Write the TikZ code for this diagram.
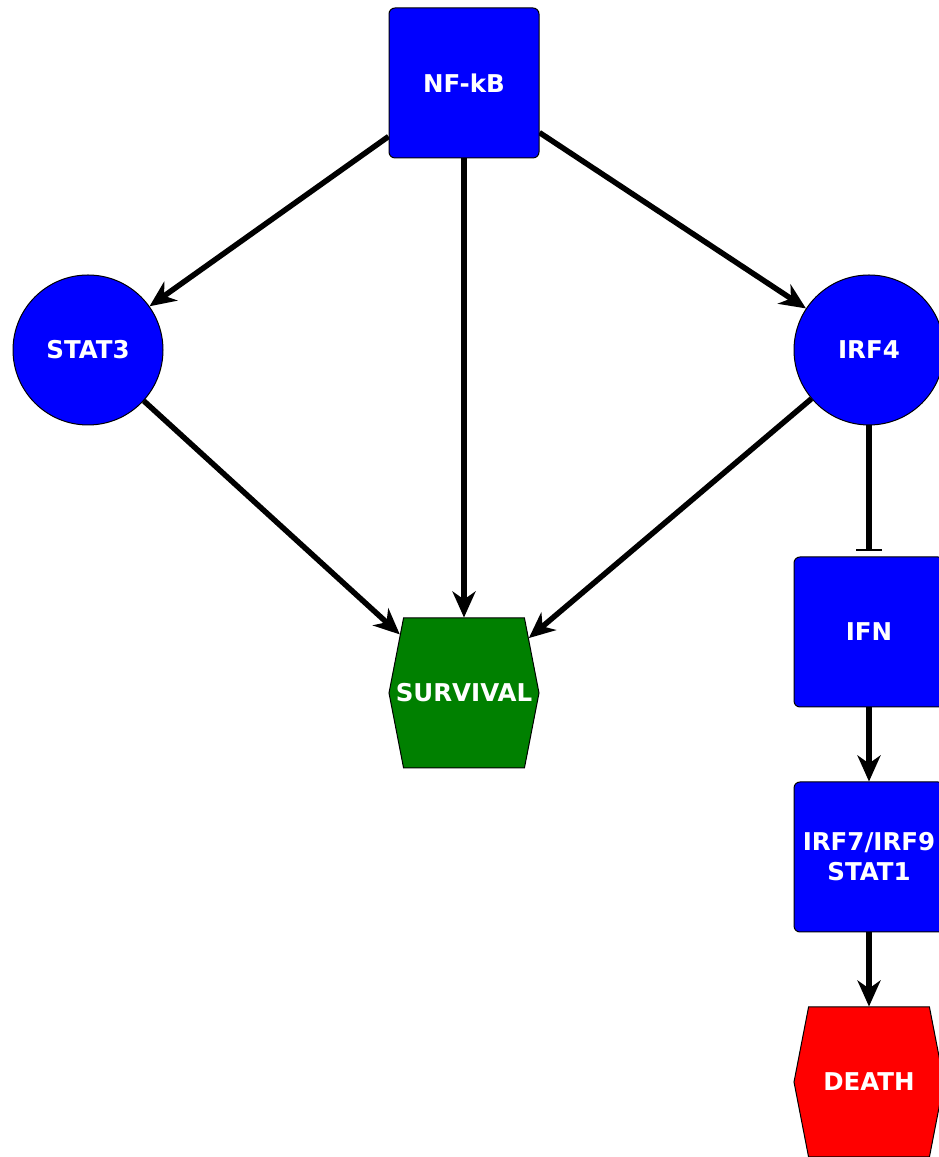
\documentclass[tikz,border=0pt]{standalone}
\usepackage{fontspec}
\setmainfont{DejaVu Sans}
\usetikzlibrary{arrows.meta}
\usetikzlibrary{shapes.symbols}
\pgfdeclarelayer{nodelayer}
\pgfdeclarelayer{edgelayer}
\pgfsetlayers{edgelayer,nodelayer,main}
\tikzset{genetext/.style={text=white, align=center, font=\fontsize{24.5}{30}\selectfont\bfseries}}
\tikzset{gene/.style={shape=rectangle, draw=black, line width=1pt, fill=blue, rounded corners=6pt,
minimum width=150pt, minimum height=150pt, inner sep=0pt, genetext}}
\tikzset{tf/.style={gene, shape=circle, minimum size=150pt}}
\tikzset{fate/.style={gene, shape=signal, signal to=west and east, signal pointer angle=158,
rounded corners=0pt, label={[genetext]center:#1}}}
\tikzset{act/.style={line width=5.5pt, -{Stealth[length=26pt, width=23pt, inset=8pt]}}}
\tikzset{inh/.style={line width=5.5pt, -{Bar[width=26pt, line width=2pt]}, shorten >=5pt}}
\begin{document}
\begin{tikzpicture}[x=100pt, y=100pt]
        \useasboundingbox (0, 0) rectangle (9.39, 11.57);
        \begin{pgfonlayer}{nodelayer}
            \node [style=gene] (nfkb) at (4.64, 10.74) {NF-kB};
            \node [style=tf] (stat3) at (0.88, 8.07) {STAT3};
            \node [style=tf] (irf4) at (8.69, 8.07) {IRF4};
            \node [fate=SURVIVAL, fill={rgb,255:red,0;green,128;blue,0}] (survival) at (4.64, 4.64) {};
            \node [style=gene] (ifn) at (8.69, 5.25) {IFN};
            \node [style=gene] (irf7) at (8.69, 3.00) {IRF7/IRF9\\STAT1};
            \node [fate=DEATH, fill=red] (death) at (8.69, 0.75) {};
        \end{pgfonlayer}
        \begin{pgfonlayer}{edgelayer}
            \draw [style=act] (nfkb) to (stat3);
            \draw [style=act] (nfkb) to (survival);
            \draw [style=act] (nfkb) to (irf4);
            \draw [style=act] (stat3) to (survival);
            \draw [style=act] (irf4) to (survival);
            \draw [style=inh] (irf4) to (ifn);
            \draw [style=act] (ifn) to (irf7);
            \draw [style=act] (irf7) to (death);
        \end{pgfonlayer}
    \end{tikzpicture}
\end{document}
